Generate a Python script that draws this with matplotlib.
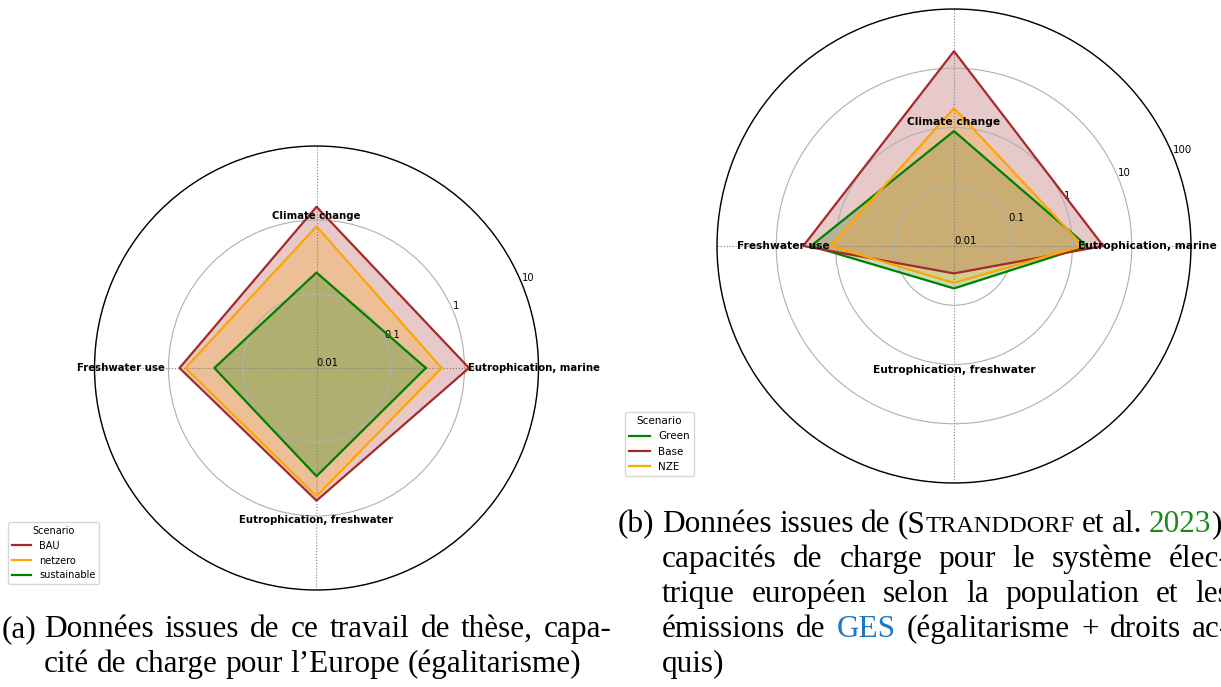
import numpy as np
import matplotlib
matplotlib.use("Agg")
import matplotlib.pyplot as plt

# impact categories, anticlockwise from the east
categories = ["Eutrophication, marine", "Climate change",
              "Freshwater use", "Eutrophication, freshwater"]

# (a) this work - Europe, egalitarianism
names_a = ["BAU", "netzero", "sustainable"]
bau = [1.15, 1.51, 0.71, 0.62]
netzero = [0.49, 0.82, 0.59, 0.54]
sustainable = [0.30, 0.195, 0.24, 0.29]

# (b) Stranddorf et al. 2023 - european power system
names_b = ["Green", "Base", "NZE"]
green = [1.75, 0.87, 2.6, 0.052]
base = [3.3, 19.4, 3.5, 0.029]
nze = [1.49, 2.12, 1.21, 0.042]

rticks_a = [0.01, 0.1, 1, 10]
rticks_b = [0.01, 0.1, 1, 10, 100]

colors = {"BAU": "brown", "Base": "brown",
          "netzero": "orange", "NZE": "orange",
          "sustainable": "green", "Green": "green"}

W, H = 1221, 687
fig = plt.figure(figsize=(W / 100, H / 100), dpi=100)


def radar(ax, names, series, rticks, lab_size, tick_size, lab_off):
    angles = np.arange(len(categories)) * 2 * np.pi / len(categories)
    closed = np.append(angles, angles[0])
    ax.set_rscale("log")
    for name, vals in zip(names, series):
        v = np.append(vals, vals[0])
        ax.plot(closed, v, color=colors[name], lw=1.6, label=name)
        ax.fill(closed, v, color=colors[name], alpha=0.25, lw=0)
    ax.set_ylim(rticks[0], rticks[-1])
    ax.set_yticks(rticks)
    ax.set_yticklabels([f"{t:g}" for t in rticks], fontsize=tick_size)
    ax.set_rlabel_position(22.5)
    ax.set_xticks(angles)
    ax.set_xticklabels([])
    ax.xaxis.grid(True, color="gray", linestyle=":", lw=0.8)
    ax.yaxis.grid(True, color="#b0b0b0", lw=0.8)
    ax.spines["polar"].set_color("black")
    ax.spines["polar"].set_linewidth(1.0)
    # category names sit inside the outer ring
    for ang, lab in zip(angles, categories):
        c = np.cos(ang)
        ha = "left" if c > 0.5 else ("right" if c < -0.5 else "center")
        ax.annotate(lab, xy=(ang, rticks[-1]),
                    xytext=(lab_off * np.cos(ang), lab_off * np.sin(ang)),
                    textcoords="offset pixels", ha=ha, va="center",
                    fontsize=lab_size, fontweight="bold")


ax_a = fig.add_axes([94.5 / W, (H - 368 - 222) / H, 444 / W, 444 / H],
                    projection="polar")
radar(ax_a, names_a, [bau, netzero, sustainable], rticks_a, 7.3, 7.1, -70)
ax_a.legend(title="Scenario", loc="upper left", fontsize=7, title_fontsize=7,
            bbox_to_anchor=(8 / W, 1 - 522 / H), bbox_transform=fig.transFigure,
            borderaxespad=0)

ax_b = fig.add_axes([717 / W, (H - 246 - 237) / H, 474 / W, 474 / H],
                    projection="polar")
radar(ax_b, names_b, [green, base, nze], rticks_b, 7.7, 7.4, -113)
ax_b.legend(title="Scenario", loc="upper left", fontsize=7.5, title_fontsize=7.5,
            bbox_to_anchor=(625 / W, 1 - 412 / H), bbox_transform=fig.transFigure,
            borderaxespad=0)

# captions: justified lines placed word by word
SERIF = "Liberation Serif"
FS = 22.5
renderer = fig.canvas.get_renderer()


def run_width(s, size):
    t = fig.text(0, 0, s, fontsize=size, family=SERIF)
    w = t.get_window_extent(renderer).width
    t.remove()
    return w


def word_width(word):
    return sum(run_width(s, sz) for s, col, sz in word)


def draw_word(x, y, word):
    for s, col, sz in word:
        fig.text(x / W, 1 - y / H, s, fontsize=sz, family=SERIF, color=col,
                 va="baseline", ha="left")
        x += run_width(s, sz)


def w(s, col="black", size=FS):
    return [(s, col, size)]


def caption(label, xl, x0, x1, y0, lines, step=35):
    draw_word(xl, y0, w(label))
    space = run_width("a a", FS) - 2 * run_width("a", FS)
    for i, (words, justify) in enumerate(lines):
        y = y0 + i * step
        widths = [word_width(wd) for wd in words]
        if justify and len(words) > 1:
            gap = (x1 - x0 - sum(widths)) / (len(words) - 1)
        else:
            gap = space
        x = x0
        for wd, wi in zip(words, widths):
            draw_word(x, y, wd)
            x += wi + gap


def plain(text):
    return [w(t) for t in text.split()]


SC = FS * 0.78
caption("(a)", 2, 44, 612, 637, [
    (plain("Données issues de ce travail de thèse, capa-"), True),
    (plain("cité de charge pour l’Europe (égalitarisme)"), False),
])
caption("(b)", 618, 662, 1230, 532, [
    (plain("Données issues de") +
     [w("(S") + w("TRANDDORF", size=SC), w("et"), w("al."),
      w("2023", "#1a8a1a") + w("),")], True),
    (plain("capacités de charge pour le système élec-"), True),
    (plain("trique européen selon la population et les"), True),
    (plain("émissions de") + [w("GES", "#1f77c0")] +
     plain("(égalitarisme + droits ac-"), True),
    (plain("quis)"), False),
])

fig.savefig("out.png", dpi=100)
